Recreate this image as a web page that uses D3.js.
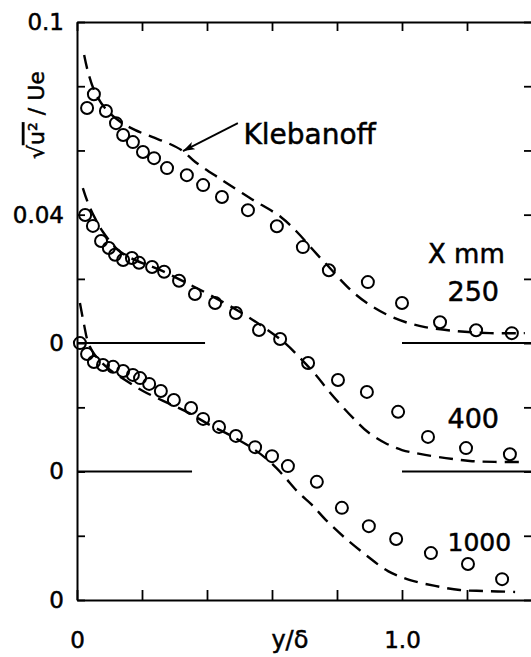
<!DOCTYPE html>
<html>
<head>
<meta charset="utf-8">
<script src="https://cdn.jsdelivr.net/npm/d3@7/dist/d3.min.js"></script>
<style>
body { margin: 0; background: #fff; }
svg { display: block; font-family: "DejaVu Sans", sans-serif; }
svg text { stroke: #000; stroke-width: 0.5px; }
</style>
</head>
<body>
<div id="chart"></div>
<script>
// ticks
var xTicks = [0, 0.2, 0.4, 0.6, 0.8, 1.0, 1.2, 1.4];
var xTickLabels = ["0", "", "", "", "", "1.0", "", ""];
var yTicks = [0, 0.02, 0.04, 0.06, 0.08, 0.10, 0.12, 0.14, 0.16, 0.18];
var yTickLabels = ["0", "", "0", "", "0", "", "0.04", "", "", "0.1"];

// stations and the vertical offset of each profile
var stations = ["250", "400", "1000"];
var offsets = [0.08, 0.04, 0];

// measured points, [y/delta, u'/Ue]
var pts250 = [[0.031,0.0732],[0.052,0.0775],[0.089,0.0723],[0.120,0.0685],[0.142,0.0648],[0.172,0.0626],
  [0.203,0.0595],[0.237,0.0576],[0.277,0.0545],[0.338,0.0523],[0.388,0.0492],[0.446,0.0455],[0.526,0.0414],
  [0.615,0.0364],[0.695,0.0299],[0.775,0.0227],[0.895,0.0190],[1.000,0.0125],[1.117,0.0065],[1.228,0.0040],[1.338,0.0031]];
var pts400 = [[0.025,0.0799],[0.049,0.0765],[0.074,0.0718],[0.098,0.0696],[0.117,0.0675],[0.142,0.0659],
  [0.169,0.0665],[0.191,0.0650],[0.231,0.0637],[0.268,0.0622],[0.314,0.0594],[0.363,0.0553],[0.425,0.0525],
  [0.489,0.0494],[0.560,0.0441],[0.625,0.0413],[0.711,0.0338],[0.803,0.0285],[0.892,0.0248],[0.988,0.0186],
  [1.080,0.0108],[1.197,0.0073],[1.332,0.0054]];
var pts1000 = [[0.009,0.0800],[0.031,0.0766],[0.052,0.0741],[0.080,0.0732],[0.111,0.0726],[0.142,0.0713],
  [0.172,0.0701],[0.194,0.0691],[0.222,0.0673],[0.258,0.0651],[0.298,0.0623],[0.351,0.0598],[0.388,0.0564],
  [0.437,0.0539],[0.489,0.0511],[0.548,0.0476],[0.600,0.0448],[0.649,0.0417],[0.738,0.0368],[0.815,0.0287],
  [0.898,0.0230],[0.982,0.0190],[1.089,0.0146],[1.203,0.0112],[1.308,0.0065]];

// Klebanoff profile (dashed), repeated at each station
var kleb250 = [[0.022,0.0897],[0.034,0.0844],[0.055,0.0782],[0.086,0.0732],[0.132,0.0690],[0.178,0.0664],
  [0.231,0.0642],[0.286,0.0620],[0.326,0.0598],[0.363,0.0565],[0.440,0.0512],[0.532,0.0452],
  [0.628,0.0392],[0.677,0.0346],[0.738,0.0277],[0.778,0.0234],[0.812,0.0196],[0.849,0.0159],[0.892,0.0125],
  [0.951,0.0090],[1.012,0.0065],[1.071,0.0050],[1.172,0.0037],[1.271,0.0031],[1.378,0.0031]];
var kleb400 = [[0.018,0.0883],[0.034,0.0836],[0.055,0.0790],[0.080,0.0746],[0.126,0.0690],[0.178,0.0659],
  [0.255,0.0628],[0.332,0.0590],[0.409,0.0550],[0.502,0.0497],[0.578,0.0447],[0.640,0.0400],[0.686,0.0354],
  [0.732,0.0304],[0.772,0.0254],[0.815,0.0204],[0.858,0.0158],[0.895,0.0123],[0.948,0.0089],[1.000,0.0067],
  [1.055,0.0055],[1.135,0.0042],[1.209,0.0033],[1.286,0.0030],[1.378,0.0030]];
var kleb1000 = [[0.009,0.0925],[0.022,0.0856],[0.034,0.0803],[0.055,0.0763],[0.095,0.0722],[0.148,0.0685],
  [0.203,0.0651],[0.265,0.0620],[0.332,0.0589],[0.409,0.0545],[0.486,0.0505],[0.548,0.0467],[0.594,0.0430],
  [0.634,0.0389],[0.680,0.0336],[0.723,0.0296],[0.766,0.0249],[0.825,0.0193],[0.889,0.0140],[0.957,0.0090],
  [1.025,0.0062],[1.102,0.0044],[1.178,0.0031],[1.255,0.0028],[1.348,0.0025]];

// zero lines of the upper two profiles, [from, to] in y/delta
var zero250 = [[0, 0.394], [1.0, 1.4]];
var zero400 = [[0, 0.354], [1.0, 1.4]];

var width = 531, height = 657;

var svg = d3.select("#chart").append("svg")
    .attr("width", width)
    .attr("height", height);

svg.append("rect").attr("width", width).attr("height", height).attr("fill", "#fff");

var x = d3.scaleLinear().domain([0, 1.4]).range([77, 532]);
var y = d3.scaleLinear().domain([0, 0.18]).range([600, 22]);

function styleAxis(g) {
    g.select(".domain").attr("stroke", "#000").attr("stroke-width", 2);
    g.selectAll(".tick line").attr("stroke", "#000").attr("stroke-width", 1.8);
    g.selectAll(".tick text").attr("fill", "#000").attr("font-family", "DejaVu Sans");
}

// bottom
svg.append("g")
    .attr("transform", "translate(0," + y(0) + ")")
    .call(d3.axisBottom(x).tickValues(xTicks).tickSizeInner(-10).tickSizeOuter(0)
        .tickPadding(32).tickFormat(function (d, i) { return xTickLabels[i]; }))
    .call(styleAxis)
    .selectAll(".tick text").attr("font-size", 23);

// top
svg.append("g")
    .attr("transform", "translate(0," + y(0.18) + ")")
    .call(d3.axisTop(x).tickValues(xTicks).tickSizeInner(-9).tickSizeOuter(0).tickFormat(""))
    .call(styleAxis);

// left
svg.append("g")
    .attr("transform", "translate(" + x(0) + ",0)")
    .call(d3.axisLeft(y).tickValues(yTicks).tickSizeInner(-8).tickSizeOuter(0)
        .tickPadding(13).tickFormat(function (d, i) { return yTickLabels[i]; }))
    .call(styleAxis)
    .selectAll(".tick text").attr("font-size", 23);

// right
svg.append("g")
    .attr("transform", "translate(" + x(1.4) + ",0)")
    .call(d3.axisRight(y).tickValues(yTicks).tickSizeInner(-8).tickSizeOuter(0).tickFormat(""))
    .call(styleAxis);

// axis titles
svg.append("text")
    .attr("x", x(0.655))
    .attr("y", 648)
    .attr("text-anchor", "middle")
    .attr("font-size", 24)
    .text("y/δ");

var yt = svg.append("text")
    .attr("transform", "translate(44," + y(0.151) + ")rotate(-90)")
    .attr("text-anchor", "middle")
    .attr("font-size", 22);
yt.append("tspan").text("√");
yt.append("tspan").attr("text-decoration", "overline").text("u²");
yt.append("tspan").text(" / Ue");

// zero lines
[zero250, zero400].forEach(function (segs, k) {
    segs.forEach(function (s) {
        svg.append("line")
            .attr("x1", x(s[0])).attr("x2", x(s[1]))
            .attr("y1", y(offsets[k])).attr("y2", y(offsets[k]))
            .attr("stroke", "#000").attr("stroke-width", 2);
    });
});

var line = d3.line()
    .x(function (d) { return x(d[0]); })
    .y(function (d) { return y(d[1]); })
    .curve(d3.curveCatmullRom.alpha(0.5));

var klebs = [kleb250, kleb400, kleb1000];
var pts = [pts250, pts400, pts1000];

for (var i = 0; i < stations.length; i++) {
    var off = offsets[i];
    svg.append("path")
        .datum(klebs[i].map(function (d) { return [d[0], d[1] + off]; }))
        .attr("d", line)
        .attr("fill", "none")
        .attr("stroke", "#000")
        .attr("stroke-width", 2.4)
        .attr("stroke-dasharray", "14,8");

    svg.append("g").selectAll("circle")
        .data(pts[i])
        .enter().append("circle")
        .attr("cx", function (d) { return x(d[0]); })
        .attr("cy", function (d) { return y(d[1] + off); })
        .attr("r", 6)
        .attr("fill", "none")
        .attr("stroke", "#000")
        .attr("stroke-width", 2);
}

// station labels
svg.append("text").attr("x", x(1.08)).attr("y", y(0.105)).attr("font-size", 26).text("X mm");
var labelY = [0.093, 0.0536, 0.0153];
var labelSize = [27, 27, 25];
stations.forEach(function (s, k) {
    svg.append("text")
        .attr("x", x(1.14))
        .attr("y", y(labelY[k]))
        .attr("font-size", labelSize[k])
        .text(s);
});

// Klebanoff annotation
svg.append("defs").append("marker")
    .attr("id", "arr")
    .attr("viewBox", "0 0 12 8")
    .attr("refX", 12).attr("refY", 4)
    .attr("markerWidth", 12).attr("markerHeight", 8)
    .attr("markerUnits", "userSpaceOnUse")
    .attr("orient", "auto")
    .append("path").attr("d", "M0,0 L12,4 L0,8 L3,4 z").attr("fill", "#000");

svg.append("line")
    .attr("x1", x(0.495)).attr("y1", y(0.1485))
    .attr("x2", x(0.326)).attr("y2", y(0.0598 + 0.08))
    .attr("stroke", "#000").attr("stroke-width", 1.8)
    .attr("marker-end", "url(#arr)");

svg.append("text")
    .attr("x", x(0.512))
    .attr("y", y(0.142))
    .attr("font-size", 28)
    .text("Klebanoff");
</script>
</body>
</html>
